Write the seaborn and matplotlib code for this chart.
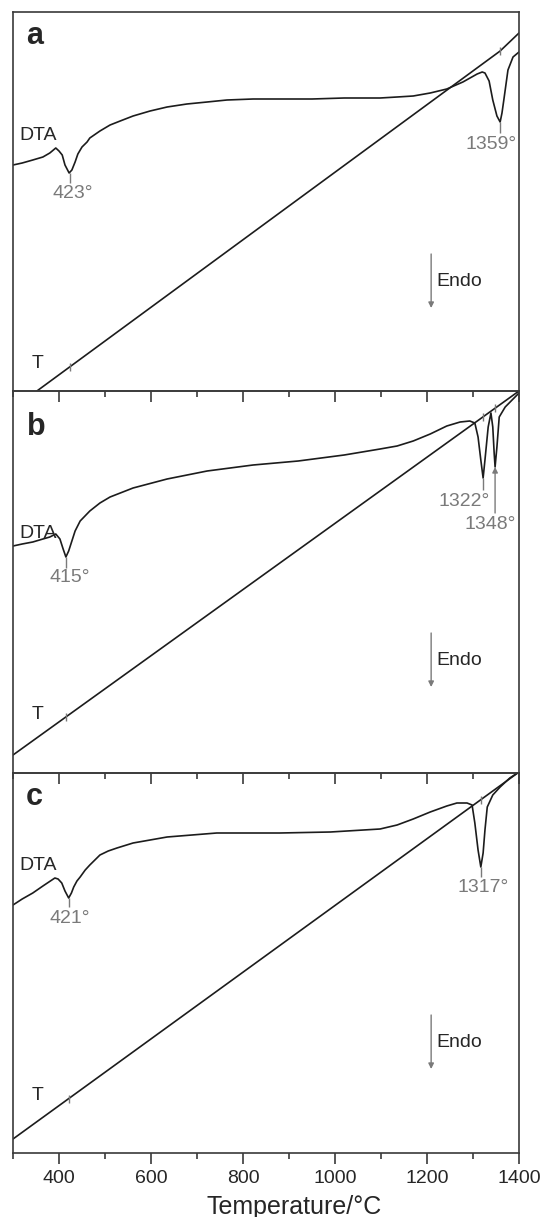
import numpy as np
import pandas as pd
import matplotlib
matplotlib.use("Agg")
import matplotlib.pyplot as plt
from matplotlib.ticker import FixedLocator
import seaborn as sns

sns.set_style("white")
plt.rcParams['font.family'] = ['Liberation Sans', 'DejaVu Sans']

# ---------------- data ----------------
# Panel a
dta_a_temp = [300, 320, 343, 365, 380, 393, 400, 407, 413, 422, 428, 435, 441, 450, 461, 467,
              489, 511, 533, 561, 598, 635, 678, 722, 765, 822, 880, 950, 1020, 1098, 1135,
              1170, 1207, 1243, 1278, 1309, 1320, 1326, 1335, 1343, 1352, 1359, 1363, 1367,
              1376, 1387, 1400]
dta_a_val = [226, 228, 231, 234, 238, 243, 240, 236, 226, 218, 221, 229, 237, 244, 249, 253,
             260, 266, 270, 275, 280, 284, 287, 289, 291, 292, 292, 292, 293, 293, 294,
             295, 298, 302, 309, 317, 319, 318, 310, 291, 275, 269, 278, 291,
             321, 334, 339]
t_a_temp = [352, 1359, 1400]
t_a_val = [0, 340, 358]

# Panel b
dta_b_temp = [300, 320, 343, 365, 380, 393, 402, 409, 415, 421, 428, 435, 446, 467, 489, 511,
              561, 635, 722, 822, 920, 1020, 1098, 1135, 1170, 1207, 1243, 1272, 1293, 1304,
              1311, 1317, 1322, 1326, 1333, 1339, 1343, 1346, 1348, 1352, 1357, 1370, 1385,
              1400]
dta_b_val = [227, 229, 231, 234, 236, 239, 234, 224, 216, 222, 232, 242, 252, 262, 270, 276,
             285, 294, 302, 308, 312, 318, 324, 327, 332, 339, 347, 351, 352, 350,
             336, 313, 295, 313, 346, 360, 346, 320, 306, 326, 356, 366, 373,
             380]
t_b_temp = [300, 1400]
t_b_val = [18, 382]

# Panel c
dta_c_temp = [300, 320, 343, 365, 391, 398, 406, 413, 421, 427, 432, 439, 446, 457, 467, 478,
              489, 507, 526, 561, 598, 635, 689, 743, 809, 880, 990, 1098, 1135, 1170, 1207,
              1243, 1265, 1287, 1298, 1304, 1311, 1317, 1322, 1326, 1331, 1343, 1359, 1380,
              1400]
dta_c_val = [248, 254, 260, 267, 275, 274, 270, 262, 255, 260, 266, 272, 276, 283, 288, 293,
             298, 302, 305, 310, 313, 316, 318, 320, 320, 320, 321, 324, 328, 334, 341,
             347, 350, 350, 348, 330, 303, 286, 300, 323, 346, 358, 366, 375,
             381]
t_c_temp = [300, 1400]
t_c_val = [14, 381]

panel_letters = ["a", "b", "c"]
peak_labels = [["423°", "1359°"], ["415°", "1322°", "1348°"], ["421°", "1317°"]]
peak_temps = [[423, 1359], [415, 1322, 1348], [421, 1317]]
major_ticks = [400, 600, 800, 1000, 1200, 1400]
minor_ticks = [300, 500, 700, 900, 1100, 1300]
x_label = "Temperature/°C"

# ---------------- figure ----------------
W, H = 542, 1217
fig = plt.figure(figsize=(W / 100, H / 100), dpi=100)

left_px, right_px = 13, 519
panel_px = [(12, 391), (391, 773), (773, 1153)]

CURVE = "#1c1c1c"
FRAME = "#3a3a3a"
GRAY = "#7a7a7a"

dta_t = [dta_a_temp, dta_b_temp, dta_c_temp]
dta_v = [dta_a_val, dta_b_val, dta_c_val]
t_t = [t_a_temp, t_b_temp, t_c_temp]
t_v = [t_a_val, t_b_val, t_c_val]

axes = []
for i, (top, bot) in enumerate(panel_px):
    ax = fig.add_axes([left_px / W, (H - bot) / H, (right_px - left_px) / W, (bot - top) / H])
    ax.set_facecolor("none")
    hpx = bot - top
    sns.lineplot(x=dta_t[i], y=dta_v[i], ax=ax, color=CURVE, lw=1.2, sort=False, estimator=None)
    sns.lineplot(x=t_t[i], y=t_v[i], ax=ax, color=CURVE, lw=1.2, sort=False, estimator=None)
    ax.set_xlim(300, 1400)
    ax.set_ylim(0, hpx)
    ax.set_yticks([])
    ax.xaxis.set_major_locator(FixedLocator(major_ticks))
    ax.xaxis.set_minor_locator(FixedLocator(minor_ticks))
    ax.tick_params(axis="x", which="major", direction="out", length=8, width=1.2,
                   color=FRAME, labelsize=14, pad=4, bottom=True)
    ax.tick_params(axis="x", which="minor", direction="out", length=4.5, width=1.2,
                   color=FRAME, bottom=True)
    for s in ax.spines.values():
        s.set_color(FRAME)
        s.set_linewidth(1.2)
        s.set_visible(True)
    if i < 2:
        ax.tick_params(axis="x", labelbottom=False)
    ax.set_xlabel("")
    ax.set_ylabel("")
    axes.append(ax)

# T-line marks at peak temperatures
def t_value(i, temp):
    return np.interp(temp, t_t[i], t_v[i])

for i, ax in enumerate(axes):
    for temp in peak_temps[i]:
        tv = t_value(i, temp)
        ax.vlines(temp, tv - 4, tv + 4, color=GRAY, lw=1.0)

fs = 14
# Panel a texts
ax = axes[0]
ax.text(328, 347, "a", fontsize=22, fontweight="bold", ha="left", va="baseline")
ax.text(313, 251, "DTA", fontsize=fs, ha="left", va="baseline")
ax.text(341, 23, "T", fontsize=fs, ha="left", va="baseline")
ax.vlines(423, 208, 218, color=GRAY, lw=1.0)
ax.text(430, 206, "423°", fontsize=fs, color=GRAY, ha="center", va="top")
ax.vlines(1359, 258, 269, color=GRAY, lw=1.0)
ax.text(1339, 255, "1359°", fontsize=fs, color=GRAY, ha="center", va="top")

# Panel b texts
ax = axes[1]
ax.text(330, 338, "b", fontsize=22, fontweight="bold", ha="left", va="baseline")
ax.text(313, 235, "DTA", fontsize=fs, ha="left", va="baseline")
ax.text(341, 54, "T", fontsize=fs, ha="left", va="baseline")
ax.vlines(415, 205, 216, color=GRAY, lw=1.0)
ax.text(424, 204, "415°", fontsize=fs, color=GRAY, ha="center", va="top")
ax.vlines(1322, 283, 295, color=GRAY, lw=1.0)
ax.text(1280, 280, "1322°", fontsize=fs, color=GRAY, ha="center", va="top")
ax.annotate("", xy=(1348, 306), xytext=(1348, 260),
            arrowprops=dict(arrowstyle="-|>", color=GRAY, lw=1.0, mutation_scale=8,
                            shrinkA=0, shrinkB=0))
ax.text(1337, 257, "1348°", fontsize=fs, color=GRAY, ha="center", va="top")

# Panel c texts
ax = axes[2]
ax.text(328, 348, "c", fontsize=22, fontweight="bold", ha="left", va="baseline")
ax.text(313, 283, "DTA", fontsize=fs, ha="left", va="baseline")
ax.text(341, 53, "T", fontsize=fs, ha="left", va="baseline")
ax.vlines(421, 246, 255, color=GRAY, lw=1.0)
ax.text(424, 243, "421°", fontsize=fs, color=GRAY, ha="center", va="top")
ax.vlines(1317, 276, 286, color=GRAY, lw=1.0)
ax.text(1322, 274, "1317°", fontsize=fs, color=GRAY, ha="center", va="top")
ax.set_xlabel(x_label, fontsize=18)
ax.xaxis.set_label_coords((294 - left_px) / (right_px - left_px), -(1195 - 1153) / 380)

# Endo arrows
for i, ax in enumerate(axes):
    top, bot = panel_px[i]
    hpx = bot - top
    y0 = hpx - 242
    y1 = hpx - 296
    ax.annotate("", xy=(1209, y1), xytext=(1209, y0),
                arrowprops=dict(arrowstyle="-|>", color=GRAY, lw=1.0, mutation_scale=8,
                                shrinkA=0, shrinkB=0))
    ax.text(1220, hpx - 274, "Endo", fontsize=fs, ha="left", va="baseline")

fig.savefig("out.png", dpi=100)
